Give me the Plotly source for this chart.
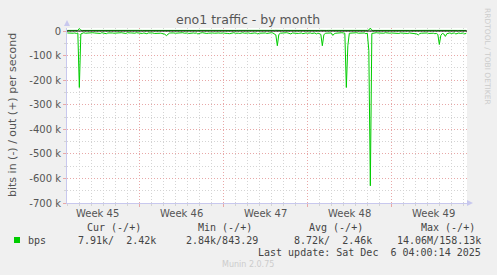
import plotly.graph_objects as go
import pandas as pd

# ---------------- data ----------------
times = pd.date_range("2025-11-04 00:00", periods=267, freq="3h")

# inbound traffic, kbit/s (drawn negative)
in_kbps = [
    8, 9, 7, 8, 9, 8, 10, 8, 230, 12,
    8, 7, 9, 8, 10, 9, 8, 7, 8, 9,
    9, 8, 10, 7, 8, 9, 11, 8, 7, 9,
    8, 9, 8, 10, 9, 8, 7, 8, 9, 10,
    7, 9, 8, 8, 10, 9, 7, 8, 9, 8,
    10, 8, 9, 11, 8, 7, 9, 8, 10, 9,
    8, 7, 9, 10, 11, 13, 19, 14, 9, 8,
    7, 8, 9, 8, 10, 9, 8, 7, 9, 8,
    8, 10, 9, 7, 8, 9, 8, 12, 9, 8,
    7, 9, 8, 10, 9, 8, 7, 8, 9, 8,
    10, 8, 9, 7, 8, 9, 8, 10, 11, 9,
    8, 7, 9, 8, 9, 10, 8, 7, 9, 8,
    9, 8, 10, 9, 7, 8, 9, 12, 9, 8,
    7, 9, 8, 10, 8, 9, 7, 8, 11, 16,
    60, 14, 9, 8, 10, 9, 7, 8, 9, 12,
    8, 9, 7, 8, 10, 9, 8, 11, 9, 8,
    9, 7, 8, 10, 9, 8, 12, 9, 10, 14,
    60, 16, 9, 8, 10, 9, 8, 18, 11, 9,
    8, 10, 9, 7, 8, 9, 230, 60, 9, 8,
    10, 9, 8, 7, 9, 8, 10, 9, 8, 11,
    9, 80, 630, 10, 8, 9, 7, 8, 9, 10,
    8, 9, 7, 8, 10, 9, 8, 9, 7, 8,
    9, 10, 8, 9, 7, 8, 9, 10, 8, 9,
    8, 9, 10, 12, 16, 10, 9, 8, 7, 9,
    8, 10, 9, 8, 9, 11, 10, 14, 55, 18,
    10, 12, 22, 11, 9, 8, 10, 9, 8, 12,
    9, 8, 10, 9, 8, 12, 9,
]

# outbound traffic, kbit/s (drawn positive)
out_kbps = [
    2.4, 2.3, 2.5, 2.4, 2.6, 2.4, 2.3, 2.5, 10.0, 3.0,
    2.3, 2.4, 2.5, 2.4, 2.6, 2.3, 2.4, 2.5, 2.4, 2.3,
    2.5, 2.4, 2.3, 2.6, 2.4, 2.5, 2.3, 2.4, 2.5, 2.4,
    2.4, 2.5, 2.6, 2.4, 2.4, 2.3, 2.5, 2.4, 2.3, 2.4,
    2.5, 2.4, 2.3, 2.4, 2.6, 2.5, 2.4, 2.3, 2.4, 2.5,
    2.4, 2.3, 2.5, 2.4, 2.4, 2.6, 2.5, 2.3, 2.4, 2.4,
    2.5, 2.4, 2.3, 2.4, 2.5, 2.7, 3.1, 2.6, 2.3, 2.5,
    2.4, 2.4, 2.5, 2.3, 2.4, 2.4, 2.6, 2.5, 2.4, 2.3,
    2.4, 2.5, 2.4, 2.3, 2.6, 2.4, 2.4, 2.5, 2.4, 2.7,
    2.4, 2.3, 2.5, 2.4, 2.4, 2.5, 2.3, 2.4, 2.4, 2.5,
    2.6, 2.4, 2.4, 2.3, 2.5, 2.4, 2.4, 2.5, 2.3, 2.4,
    2.5, 2.4, 2.3, 2.4, 2.5, 2.4, 2.6, 2.4, 2.4, 2.3,
    2.5, 2.4, 2.6, 2.5, 2.4, 2.4, 2.7, 2.4, 2.3, 2.5,
    2.4, 2.4, 2.5, 2.4, 2.3, 2.4, 2.5, 2.4, 2.6, 2.8,
    3.4, 2.6, 2.4, 2.3, 2.5, 2.4, 2.4, 2.5, 2.3, 2.4,
    2.5, 2.4, 2.3, 2.4, 2.5, 2.4, 2.6, 2.4, 2.4, 2.3,
    2.5, 2.4, 2.6, 2.5, 2.4, 2.4, 2.7, 2.4, 2.3, 2.6,
    3.2, 2.7, 2.4, 2.3, 2.5, 2.4, 2.4, 2.9, 2.5, 2.4,
    2.4, 2.5, 2.4, 2.3, 2.4, 2.5, 4.0, 3.0, 2.4, 2.3,
    2.5, 2.4, 2.3, 2.4, 2.5, 2.4, 2.6, 2.4, 2.4, 2.5,
    2.6, 4.0, 12.0, 2.6, 2.4, 2.5, 2.3, 2.4, 2.4, 2.5,
    2.4, 2.5, 2.3, 2.4, 2.6, 2.4, 2.4, 2.5, 2.3, 2.4,
    2.5, 2.4, 2.3, 2.4, 2.5, 2.4, 2.6, 2.4, 2.4, 2.3,
    2.5, 2.4, 2.6, 2.5, 2.8, 2.4, 2.4, 2.5, 2.3, 2.4,
    2.4, 2.5, 2.4, 2.3, 2.4, 2.6, 2.5, 2.7, 3.0, 2.6,
    2.4, 2.5, 2.7, 2.4, 2.3, 2.5, 2.4, 2.4, 2.3, 2.5,
    2.4, 2.4, 2.5, 2.4, 2.3, 2.5, 2.4,
]

y_tickvals = [0, -100000, -200000, -300000, -400000, -500000, -600000, -700000]
y_ticktext = ["0", "-100 k", "-200 k", "-300 k", "-400 k", "-500 k", "-600 k", "-700 k"]

week_starts = ["2025-11-10", "2025-11-17", "2025-11-24", "2025-12-01"]
week_centers = ["2025-11-06 12:00", "2025-11-13 12:00", "2025-11-20 12:00",
                "2025-11-27 12:00", "2025-12-04 12:00"]
week_labels = ["Week 45", "Week 46", "Week 47", "Week 48", "Week 49"]

stat_headers = ["Cur (-/+)", "Min (-/+)", "Avg (-/+)", "Max (-/+)"]
stat_values = ["7.91k/  2.42k", "2.84k/843.29", "8.72k/  2.46k", "14.06M/158.13k"]
series_name = "bps"
last_update = "Last update: Sat Dec  6 04:00:14 2025"

# ---------------- layout helpers ----------------
W, H = 497, 275
L, R, T, B = 67, 467, 28, 203


def px(x):
    return (x - L) / (R - L)


def py(y):
    return (B - y) / (B - T)


GREEN = "#00cc00"
mono = dict(family="DejaVu Sans Mono", size=10, color="#444444")

fig = go.Figure()
fig.add_trace(go.Scatter(x=times, y=[-v * 1000 for v in in_kbps], mode="lines",
                         line=dict(color=GREEN, width=1), showlegend=False,
                         hoverinfo="skip"))
fig.add_trace(go.Scatter(x=times, y=[v * 1000 for v in out_kbps], mode="lines",
                         line=dict(color=GREEN, width=1), showlegend=False,
                         hoverinfo="skip"))

fig.update_layout(
    width=W, height=H,
    margin=dict(l=L, r=W - R, t=T, b=H - B),
    paper_bgcolor="#f0f0f0", plot_bgcolor="#ffffff",
    showlegend=False,
    xaxis=dict(
        type="date",
        range=["2025-11-03 23:20", "2025-12-07 07:20"],
        tickvals=week_starts, showticklabels=False,
        showgrid=True, gridcolor="#e8a8a8", griddash="1px,2px", gridwidth=1,
        ticks="outside", ticklen=3, tickcolor="#e8a8a8",
        minor=dict(dtick=86400000, tick0="2025-11-03", showgrid=True,
                   gridcolor="#d4d4d4", griddash="1px,2px", gridwidth=1,
                   ticks="outside", ticklen=2, tickcolor="#d4d4d4"),
        showline=True, linecolor="#c8c8ee", linewidth=1,
        zeroline=False, fixedrange=True,
    ),
    yaxis=dict(
        range=[-700000, 12200],
        tickvals=y_tickvals, ticktext=y_ticktext,
        tickfont=dict(family="DejaVu Sans", size=10, color="#555555"),
        showgrid=True, gridcolor="#e8a8a8", griddash="1px,2px", gridwidth=1,
        ticks="outside", ticklen=3, tickcolor="#e8a8a8",
        minor=dict(dtick=50000, tick0=0, showgrid=True,
                   gridcolor="#d4d4d4", griddash="1px,2px", gridwidth=1,
                   ticks="outside", ticklen=2, tickcolor="#d4d4d4"),
        showline=True, linecolor="#c8c8ee", linewidth=1,
        zeroline=False, fixedrange=True,
    ),
)

shapes = [
    # zero rule
    dict(type="line", xref="paper", yref="y", x0=0, x1=1, y0=0, y1=0,
         line=dict(color="#000000", width=1), layer="above"),
    # axis arrows
    dict(type="path", xref="paper", yref="paper",
         path=f"M {px(64)} {py(26)} L {px(70)} {py(26)} L {px(67)} {py(20)} Z",
         fillcolor="#c8c8ee", line=dict(width=0)),
    dict(type="path", xref="paper", yref="paper",
         path=f"M {px(467)} {py(200)} L {px(467)} {py(206)} L {px(473)} {py(203)} Z",
         fillcolor="#c8c8ee", line=dict(width=0)),
    # legend colour box
    dict(type="rect", xref="paper", yref="paper",
         x0=px(14), x1=px(20), y0=py(243), y1=py(237),
         fillcolor=GREEN, line=dict(width=0)),
]
fig.update_layout(shapes=shapes)

ann = []
# title
ann.append(dict(text="eno1 traffic - by month", xref="paper", yref="paper",
                x=px(248), y=py(19), showarrow=False, xanchor="center", yanchor="middle",
                font=dict(family="DejaVu Sans", size=12.5, color="#555555")))
# y-axis title
ann.append(dict(text="bits in (-) / out (+) per second", xref="paper", yref="paper",
                x=px(12), y=py(115), showarrow=False, textangle=-90,
                xanchor="center", yanchor="middle",
                font=dict(family="DejaVu Sans", size=11, color="#555555")))
# week labels
for wc, wl in zip(week_centers, week_labels):
    ann.append(dict(text=wl, xref="x", yref="paper", x=wc, y=py(213),
                    showarrow=False, xanchor="center", yanchor="middle",
                    font=dict(family="DejaVu Sans", size=10, color="#555555")))
# watermark
ann.append(dict(text="RRDTOOL / TOBI OETIKER", xref="paper", yref="paper",
                x=px(488), y=py(56), showarrow=False, textangle=90,
                xanchor="center", yanchor="middle",
                font=dict(family="DejaVu Sans", size=7.5, color="#cccccc")))
# legend table
header_right = [143, 254, 365, 477]
value_right = [158, 260, 374, 483]
for hx, h in zip(header_right, stat_headers):
    ann.append(dict(text=h.replace(" ", "\u00a0"), xref="paper", yref="paper",
                    x=px(hx), y=py(227), showarrow=False, xanchor="right",
                    yanchor="middle", font=mono))
for vx, v in zip(value_right, stat_values):
    ann.append(dict(text=v.replace(" ", "\u00a0"), xref="paper", yref="paper",
                    x=px(vx), y=py(240), showarrow=False, xanchor="right",
                    yanchor="middle", font=mono))
ann.append(dict(text=series_name, xref="paper", yref="paper", x=px(26), y=py(240),
                showarrow=False, xanchor="left", yanchor="middle", font=mono))
ann.append(dict(text=last_update.replace(" ", "\u00a0"), xref="paper", yref="paper",
                x=px(483), y=py(252), showarrow=False, xanchor="right",
                yanchor="middle", font=mono))
ann.append(dict(text="Munin 2.0.75", xref="paper", yref="paper", x=px(248), y=py(264),
                showarrow=False, xanchor="center", yanchor="middle",
                font=dict(family="DejaVu Sans", size=8, color="#cccccc")))
fig.update_layout(annotations=ann)

fig.write_html("out.html", config={"displayModeBar": False})
